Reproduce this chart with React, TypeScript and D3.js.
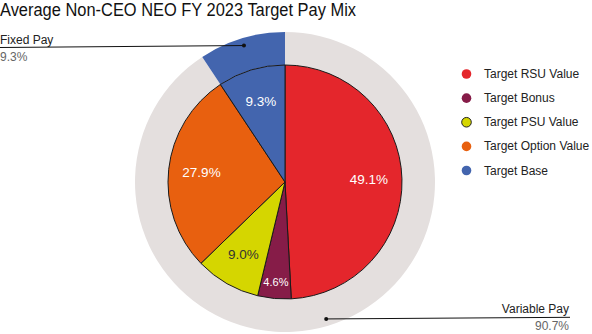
import React from "react";
import * as d3 from "d3";

const categories = ["Target RSU Value", "Target Bonus", "Target PSU Value", "Target Option Value", "Target Base"];
const values = [49.1, 4.6, 9.0, 27.9, 9.3];
const colors = ["#e4262c", "#861c48", "#d5d600", "#e8600f", "#4365ae"];
const labelColors = ["#ffffff", "#ffffff", "#333333", "#ffffff", "#ffffff"];
const ringNames = ["Variable Pay", "Fixed Pay"];
const ringValues = [90.7, 9.3];
const ringColors = ["#e4dfde", "#4365ae"];

const W = 592, H = 334;
const cx = 285, cy = 182;
const rIn = 117, rOut = 150;

export default function App() {
  const pie = d3.pie<number>().sort(null).value((d) => d);
  const inner = pie(values);
  const ring = pie(ringValues);
  const arcIn = d3.arc<d3.PieArcDatum<number>>().innerRadius(0).outerRadius(rIn);
  const arcRing = d3.arc<d3.PieArcDatum<number>>().innerRadius(rIn).outerRadius(rOut);
  const polar = (a: number, r: number) => [cx + r * Math.sin(a), cy - r * Math.cos(a)];

  const varMid = (ring[0].startAngle + ring[0].endAngle) / 2;
  const fixMid = (ring[1].startAngle + ring[1].endAngle) / 2;
  const [vx, vy] = polar(varMid, 143);
  const [fx, fy] = polar(fixMid, 142.5);

  const legendY = d3.scaleLinear().domain([0, 4]).range([74, 170.5]);

  return (
    <svg width={W} height={H} style={{ position: "absolute", left: 0, top: 0, fontFamily: "'Liberation Sans', Arial, sans-serif" }}>
      <rect width={W} height={H} fill="#ffffff" />
      <text x={0} y={16} fontSize={17.5} fill="#111" textLength={356} lengthAdjust="spacingAndGlyphs">Average Non-CEO NEO FY 2023 Target Pay Mix</text>
      <g transform={`translate(${cx},${cy})`}>
        {ring.map((d, i) => (
          <path key={"r" + i} d={arcRing(d) || ""} fill={ringColors[i]} />
        ))}
        {inner.map((d, i) => (
          <path key={"p" + i} d={arcIn(d) || ""} fill={colors[i]} stroke="#1a1a1a" strokeWidth={1} />
        ))}
      </g>
      {inner.map((d, i) => {
        const mid = (d.startAngle + d.endAngle) / 2;
        const small = values[i] < 6;
        const [x, y] = polar(mid, small ? 100 : 84);
        return (
          <text key={"l" + i} x={x} y={y} textAnchor="middle" dominantBaseline="central" fontSize={small ? 11 : 13.5} fill={labelColors[i]}>
            {values[i].toFixed(1)}%
          </text>
        );
      })}
      {/* Fixed pay callout */}
      <line x1={0} y1={47.5} x2={fx} y2={fy} stroke="#111" strokeWidth={1} />
      <circle cx={fx} cy={fy} r={2} fill="#111" />
      <text x={0} y={44} fontSize={12} fill="#222">{ringNames[1]}</text>
      <text x={0} y={60.5} fontSize={12} fill="#666">{ringValues[1].toFixed(1)}%</text>
      {/* Variable pay callout */}
      <line x1={vx} y1={vy} x2={570} y2={317.3} stroke="#111" strokeWidth={1} />
      <circle cx={vx} cy={vy} r={2} fill="#111" />
      <text x={569} y={313} fontSize={12} fill="#222" textAnchor="end">{ringNames[0]}</text>
      <text x={569} y={330} fontSize={12} fill="#666" textAnchor="end">{ringValues[0].toFixed(1)}%</text>
      {/* Legend */}
      {categories.map((c, i) => (
        <g key={"g" + i}>
          <circle cx={466.5} cy={legendY(i)} r={4.8} fill={colors[i]} stroke={i === 2 ? "#222" : "none"} strokeWidth={1} />
          <text x={484} y={legendY(i) + 4} fontSize={12} fill="#222">{c}</text>
        </g>
      ))}
    </svg>
  );
}
